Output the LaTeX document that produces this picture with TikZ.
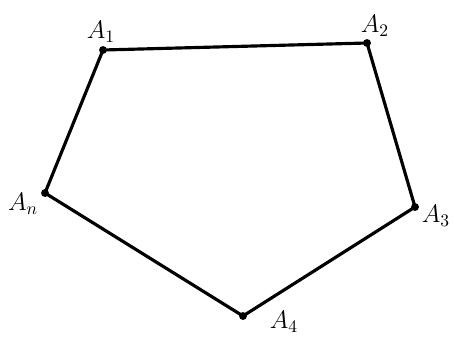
\documentclass[tikz,border=0pt]{standalone}
\begin{document}
\begin{tikzpicture}[x=0.02cm,y=-0.02cm,
  vtx/.style={circle,fill=black,inner sep=0pt,minimum size=4.5pt},
  lbl/.style={font=\Large,inner sep=0pt}]
\useasboundingbox (0,0) rectangle (455,338);
\node[vtx] (A1) at (103,50) {};
\node[vtx] (A2) at (367,43) {};
\node[vtx] (A3) at (415,207) {};
\node[vtx] (A4) at (243,316) {};
\node[vtx] (An) at (45,193) {};
\draw[line width=1.8pt,line join=round] (A1.center) -- (A2.center) -- (A3.center) -- (A4.center) -- (An.center) -- cycle;
\node[lbl] (L1) at (101,32) {$A_1$};
\node[lbl] (L2) at (375,26) {$A_2$};
\node[lbl] (L3) at (436,216) {$A_3$};
\node[lbl] (L4) at (284,322) {$A_4$};
\node[lbl] (Ln) at (23,204) {$A_n$};
\end{tikzpicture}
\end{document}
